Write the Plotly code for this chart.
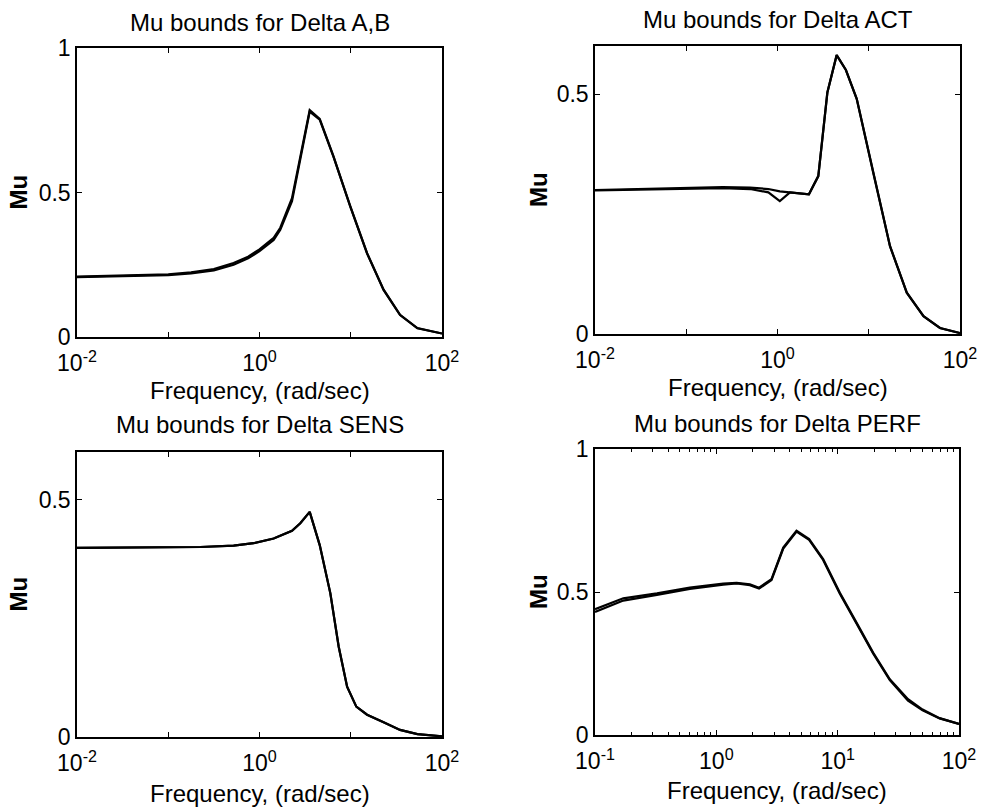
import plotly.graph_objects as go

# ---------------- data ----------------
ab_freq = [0.01, 0.0316, 0.1, 0.178, 0.316, 0.52, 0.75, 1.0, 1.43, 1.69, 2.27, 3.55, 4.57, 6.46, 9.89, 15.1, 22.9, 34.7, 53.7, 100]
ab_upper = [0.209, 0.212, 0.217, 0.224, 0.235, 0.256, 0.278, 0.303, 0.343, 0.378, 0.48, 0.785, 0.755, 0.626, 0.452, 0.29, 0.164, 0.077, 0.031, 0.012]
ab_lower = [0.207, 0.210, 0.214, 0.220, 0.230, 0.250, 0.272, 0.297, 0.336, 0.371, 0.47, 0.780, 0.752, 0.624, 0.451, 0.289, 0.163, 0.076, 0.030, 0.012]

act_freq = [0.01, 0.0316, 0.1, 0.251, 0.5, 0.794, 1.06, 1.37, 2.21, 2.8, 3.52, 4.45, 5.62, 7.38, 11.2, 17.1, 26.1, 39.8, 60.3, 100]
act_upper = [0.300, 0.302, 0.304, 0.306, 0.305, 0.302, 0.297, 0.295, 0.291, 0.329, 0.503, 0.581, 0.550, 0.490, 0.336, 0.183, 0.086, 0.037, 0.0125, 0.002]
act_lower = [0.299, 0.301, 0.303, 0.304, 0.302, 0.295, 0.277, 0.295, 0.291, 0.329, 0.503, 0.581, 0.550, 0.490, 0.336, 0.183, 0.086, 0.037, 0.0125, 0.002]

sens_freq = [0.01, 0.1, 0.225, 0.521, 0.863, 1.43, 2.27, 2.8, 3.55, 4.57, 5.97, 7.38, 9.12, 11.5, 15.1, 22.9, 34.7, 53.7, 100]
sens_upper = [0.398, 0.399, 0.400, 0.403, 0.408, 0.418, 0.434, 0.450, 0.474, 0.404, 0.303, 0.190, 0.106, 0.064, 0.047, 0.031, 0.015, 0.006, 0.0015]
sens_lower = [0.398, 0.399, 0.400, 0.403, 0.408, 0.418, 0.434, 0.450, 0.474, 0.404, 0.303, 0.190, 0.106, 0.064, 0.047, 0.031, 0.015, 0.006, 0.0015]

perf_freq = [0.1, 0.171, 0.324, 0.605, 1.14, 1.47, 1.89, 2.25, 2.85, 3.56, 4.58, 5.82, 7.59, 10.4, 14.3, 19.6, 26.9, 38.0, 50.1, 69.2, 100]
perf_upper = [0.440, 0.478, 0.495, 0.515, 0.529, 0.532, 0.527, 0.515, 0.545, 0.655, 0.714, 0.685, 0.615, 0.498, 0.393, 0.288, 0.195, 0.125, 0.089, 0.059, 0.039]
perf_lower = [0.430, 0.470, 0.490, 0.511, 0.526, 0.530, 0.524, 0.512, 0.542, 0.652, 0.711, 0.682, 0.612, 0.495, 0.390, 0.285, 0.192, 0.120, 0.086, 0.058, 0.039]

titles = ["Mu bounds for Delta A,B", "Mu bounds for Delta ACT", "Mu bounds for Delta SENS", "Mu bounds for Delta PERF"]
x_label = "Frequency, (rad/sec)"
y_label = "Mu"

wide_tickvals = [0.01, 0.1, 1, 10, 100]
wide_ticktext = ["10<sup>-2</sup>", "", "10<sup>0</sup>", "", "10<sup>2</sup>"]
perf_tickvals = [0.1, 1, 10, 100]
perf_ticktext = ["10<sup>-1</sup>", "10<sup>0</sup>", "10<sup>1</sup>", "10<sup>2</sup>"]
minor_vals = [m * d for d in [0.1, 1, 10] for m in range(2, 10)]

# ---------------- layout geometry (pixels) ----------------
W, H = 981, 811
FONT = "Liberation Sans, Arial, Helvetica, sans-serif"
FS = 24
TFS = 23

panels = [
    dict(box=(77, 442, 48, 337), xr=[-2, 2], yr=[0, 1], yt=[0, 0.5, 1], freq=ab_freq, up=ab_upper, lo=ab_lower,
         tv=wide_tickvals, tt=wide_ticktext, minor=False, title_y=23, xlab_y=391, ylab_x=18),
    dict(box=(595, 960, 46, 334), xr=[-2, 2], yr=[0, 0.6], yt=[0, 0.5], freq=act_freq, up=act_upper, lo=act_lower,
         tv=wide_tickvals, tt=wide_ticktext, minor=False, title_y=20, xlab_y=388, ylab_x=538),
    dict(box=(77, 442, 452, 737), xr=[-2, 2], yr=[0, 0.6], yt=[0, 0.5], freq=sens_freq, up=sens_upper, lo=sens_lower,
         tv=wide_tickvals, tt=wide_ticktext, minor=False, title_y=425, xlab_y=793, ylab_x=18),
    dict(box=(595, 959, 449, 735), xr=[-1, 2], yr=[0, 1], yt=[0, 0.5, 1], freq=perf_freq, up=perf_upper, lo=perf_lower,
         tv=perf_tickvals, tt=perf_ticktext, minor=True, title_y=423, xlab_y=790, ylab_x=538),
]

fig = go.Figure()
annotations = []
for i, p in enumerate(panels, start=1):
    x0, x1, y0, y1 = p["box"]
    xa = "x" if i == 1 else f"x{i}"
    ya = "y" if i == 1 else f"y{i}"
    for series in (p["lo"], p["up"]):
        fig.add_trace(go.Scatter(x=p["freq"], y=series, mode="lines",
                                 line=dict(color="black", width=2.2),
                                 xaxis=xa, yaxis=ya, showlegend=False, hoverinfo="skip"))
    xkey = "xaxis" if i == 1 else f"xaxis{i}"
    ykey = "yaxis" if i == 1 else f"yaxis{i}"
    xax = dict(type="log", range=p["xr"], domain=[x0 / W, x1 / W], anchor=ya, automargin=False,
               showgrid=False, zeroline=False, showline=True, linecolor="black", linewidth=1.5,
               mirror="allticks", ticks="inside", ticklen=5, tickcolor="black", tickwidth=1,
               tickvals=p["tv"], ticktext=p["tt"], ticklabelstandoff=5,
               tickfont=dict(family=FONT, size=TFS, color="black"))
    if p["minor"]:
        xax["minor"] = dict(ticks="inside", ticklen=3, tickcolor="black", tickwidth=1, tickvals=minor_vals, showgrid=False)
    yax = dict(range=p["yr"], domain=[1 - y1 / H, 1 - y0 / H], anchor=xa, automargin=False,
               showgrid=False, zeroline=False, showline=True, linecolor="black", linewidth=1.5,
               mirror="allticks", ticks="inside", ticklen=5, tickcolor="black", tickwidth=1,
               tickvals=p["yt"], ticktext=[f"{v:g}" for v in p["yt"]],
               tickfont=dict(family=FONT, size=TFS, color="black"))
    fig.update_layout({xkey: xax, ykey: yax})
    cx = (x0 + x1) / 2
    annotations.append(dict(text=titles[i - 1], x=cx / W, y=1 - p["title_y"] / H, xref="paper", yref="paper",
                            xanchor="center", yanchor="middle", showarrow=False,
                            font=dict(family=FONT, size=FS, color="black")))
    annotations.append(dict(text=x_label, x=cx / W, y=1 - p["xlab_y"] / H, xref="paper", yref="paper",
                            xanchor="center", yanchor="middle", showarrow=False,
                            font=dict(family=FONT, size=FS, color="black")))
    annotations.append(dict(text="<b>" + y_label + "</b>", x=p["ylab_x"] / W, y=1 - ((y0 + y1) / 2) / H,
                            xref="paper", yref="paper",
                            xanchor="center", yanchor="middle", showarrow=False, textangle=-90,
                            font=dict(family=FONT, size=FS, color="black")))

fig.update_layout(width=W, height=H, margin=dict(l=0, r=0, t=0, b=0),
                  paper_bgcolor="white", plot_bgcolor="white", annotations=annotations)

fig.write_html("out.html")
